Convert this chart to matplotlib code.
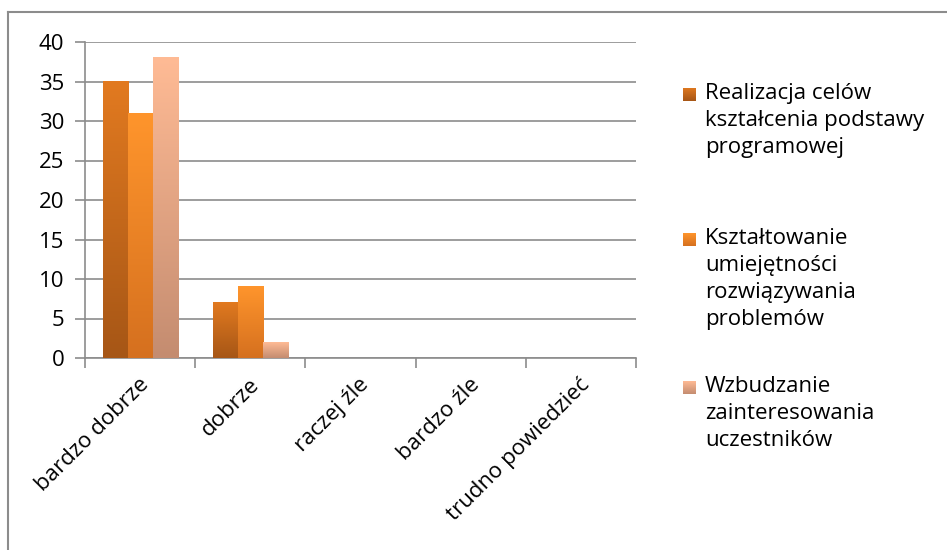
import numpy as np
import matplotlib.pyplot as plt
from matplotlib.colors import LinearSegmentedColormap
from matplotlib.patches import Rectangle
from matplotlib.lines import Line2D

plt.rcParams['font.family'] = ['Open Sans', 'DejaVu Sans']

categories = ["bardzo dobrze", "dobrze", "raczej źle", "bardzo źle", "trudno powiedzieć"]
series_labels = [
    "Realizacja celów\nkształcenia podstawy\nprogramowej",
    "Kształtowanie\numiejętności\nrozwiązywania\nproblemów",
    "Wzbudzanie\nzainteresowania\nuczestników",
]
realizacja = [35, 7, 0, 0, 0]
ksztaltowanie = [31, 9, 0, 0, 0]
wzbudzanie = [38, 2, 0, 0, 0]
series_values = [realizacja, ksztaltowanie, wzbudzanie]

# (top colour, bottom colour) for each series gradient
GRADIENTS = [
    ("#e27a20", "#a65616"),
    ("#ff952c", "#d5701f"),
    ("#ffbb95", "#c48c70"),
]
GRID = "#8c8c8c"
FS = 16
W, H = 947, 550

fig = plt.figure(figsize=(W / 100, H / 100), dpi=100)
ax = fig.add_axes([85 / W, 1 - 358 / H, 551 / W, 316 / H])

x = np.arange(len(categories))
width = 0.227
offsets = (np.arange(3) - 1) * width


def grad_cmap(i):
    top, bot = GRADIENTS[i]
    return LinearSegmentedColormap.from_list(f"g{i}", [bot, top])


grad = np.linspace(1, 0, 256).reshape(-1, 1)

for i, vals in enumerate(series_values):
    cmap = grad_cmap(i)
    bars = ax.bar(x + offsets[i], vals, width, color="none", linewidth=0, zorder=3)
    for b in bars:
        h = b.get_height()
        if h <= 0:
            continue
        x0 = b.get_x()
        # soft shadow to the right
        ax.add_patch(Rectangle((x0 + 0.012, -0.1), b.get_width(), h - 0.15,
                               color="#000000", alpha=0.08, lw=0, zorder=2))
        ax.imshow(grad, cmap=cmap, aspect="auto", extent=(x0, x0 + b.get_width(), 0, h),
                  zorder=3, interpolation="bicubic")

ax.set_xlim(-0.5, len(categories) - 0.5)
ax.set_ylim(0, 40)
ax.set_yticks(np.arange(0, 41, 5))
ax.yaxis.grid(True, color=GRID, linewidth=1.2, zorder=0)
ax.set_axisbelow(True)

for s in ["top", "right"]:
    ax.spines[s].set_visible(False)
for s in ["left", "bottom"]:
    ax.spines[s].set_color(GRID)
    ax.spines[s].set_linewidth(1.2)

ax.tick_params(axis="y", length=7, width=1.2, color=GRID, labelsize=FS, pad=8)
ax.set_xticks(np.arange(len(categories) + 1) - 0.5)
ax.set_xticklabels([])
ax.tick_params(axis="x", length=7, width=1.2, color=GRID)
for i, c in enumerate(categories):
    ax.text(i + 0.05, -3.0, c, rotation=45, ha="right", va="center",
            rotation_mode="anchor", fontsize=FS)

# legend drawn by hand (Excel-like uneven entry spacing)
legend_top = [85, 230, 378]
for i, (lab, yy) in enumerate(zip(series_labels, legend_top)):
    sq = fig.add_axes([683 / W, 1 - (yy + 16) / H, 13 / W, 13 / H])
    sq.imshow(grad, cmap=grad_cmap(i), aspect="auto", interpolation="bicubic")
    sq.axis("off")
    fig.text(705 / W, 1 - (yy - 2) / H, lab, ha="left", va="top",
             fontsize=FS, linespacing=1.37)

# outer chart border (top and left edges visible)
fig.add_artist(Line2D([8 / W, 1], [1 - 12 / H, 1 - 12 / H], color=GRID, lw=1.5,
                      transform=fig.transFigure))
fig.add_artist(Line2D([8 / W, 8 / W], [0, 1 - 12 / H], color=GRID, lw=1.5,
                      transform=fig.transFigure))

fig.savefig("out.png", dpi=100)
